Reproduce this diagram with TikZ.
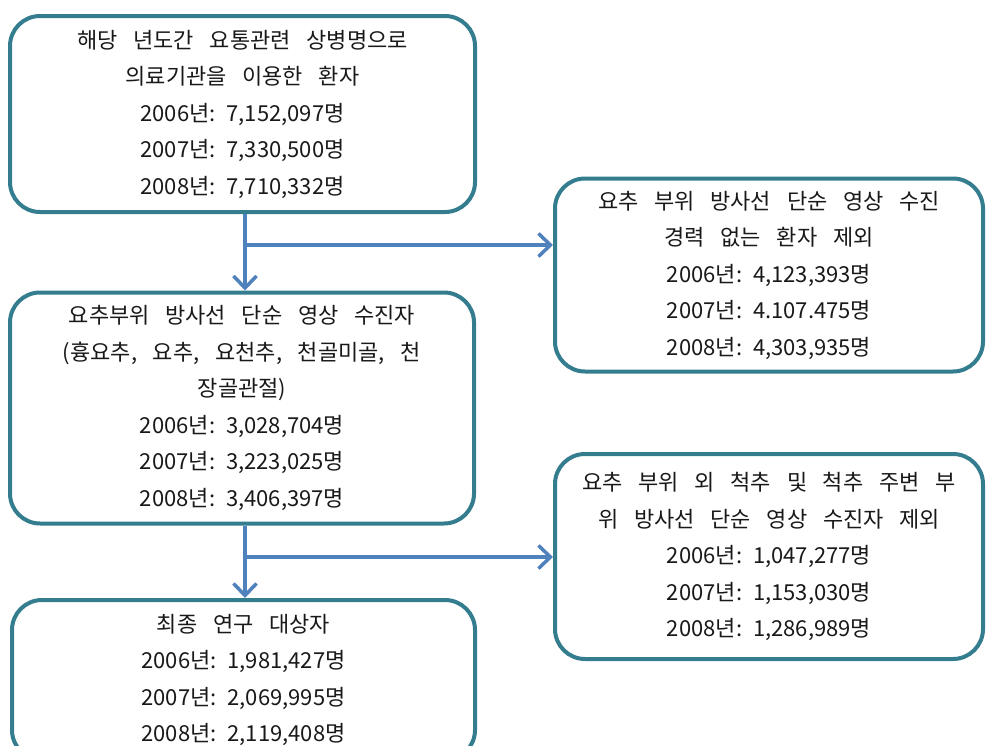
\documentclass[tikz,border=0pt]{standalone}
\usepackage{fontspec}
\setmainfont{Noto Sans CJK KR}[WordSpace=3.2]
\usetikzlibrary{arrows.meta}
\definecolor{boxline}{RGB}{52,125,142}
\definecolor{arrline}{RGB}{79,129,189}
\newcommand\yrcount[2]{#1년:\hspace{0.5em}#2명}
\tikzset{
  flowbox/.style={draw=boxline, line width=4pt, rounded corners=30pt, fill=white,
    align=center, inner sep=0pt, font=\fontsize{22}{36.5}\selectfont, text=black!90},
  flowarr/.style={draw=arrline, line width=3.5pt,
    -{Straight Barb[length=12pt,width=23pt,line width=3.5pt]}},
}
\begin{document}
\begin{tikzpicture}[x=1pt,y=-1pt]
\fill[white] (0,0) rectangle (986,745);
\useasboundingbox (0,0) rectangle (986,745);

\node[flowbox, minimum width=465pt, minimum height=196pt] (b1) at (242.5,114)
  {해당 년도간 요통관련 상병명으로\\의료기관을 이용한 환자\\\yrcount{2006}{7,152,097}\\\yrcount{2007}{7,330,500}\\\yrcount{2008}{7,710,332}};

\node[flowbox, minimum width=428pt, minimum height=193pt] (b2) at (769,275)
  {요추 부위 방사선 단순 영상 수진\\경력 없는 환자 제외\\\yrcount{2006}{4,123,393}\\\yrcount{2007}{4.107.475}\\\yrcount{2008}{4,303,935}};

\node[flowbox, minimum width=464pt, minimum height=231pt] (b3) at (242,408)
  {요추부위 방사선 단순 영상 수진자\\(흉요추, 요추, 요천추, 천골미골, 천\\장골관절)\\\yrcount{2006}{3,028,704}\\\yrcount{2007}{3,223,025}\\\yrcount{2008}{3,406,397}};

\node[flowbox, minimum width=428pt, minimum height=205pt] (b5) at (769,556.5)
  {요추 부위 외 척추 및 척추 주변 부\\위 방사선 단순 영상 수진자 제외\\\yrcount{2006}{1,047,277}\\\yrcount{2007}{1,153,030}\\\yrcount{2008}{1,286,989}};

\node[flowbox, minimum width=463pt, minimum height=160pt] (b4) at (243.5,680)
  {최종 연구 대상자\\\yrcount{2006}{1,981,427}\\\yrcount{2007}{2,069,995}\\\yrcount{2008}{2,119,408}};

\coordinate (j1) at (245,245);
\coordinate (j2) at (245,557);

\draw[flowarr] (j1 |- b1.south) -- (j1 |- b3.north);
\draw[flowarr] (j1) -- (j1 -| b2.west);
\draw[flowarr] (j2 |- b3.south) -- (j2 |- b4.north);
\draw[flowarr] (j2) -- (j2 -| b5.west);
\end{tikzpicture}
\end{document}
